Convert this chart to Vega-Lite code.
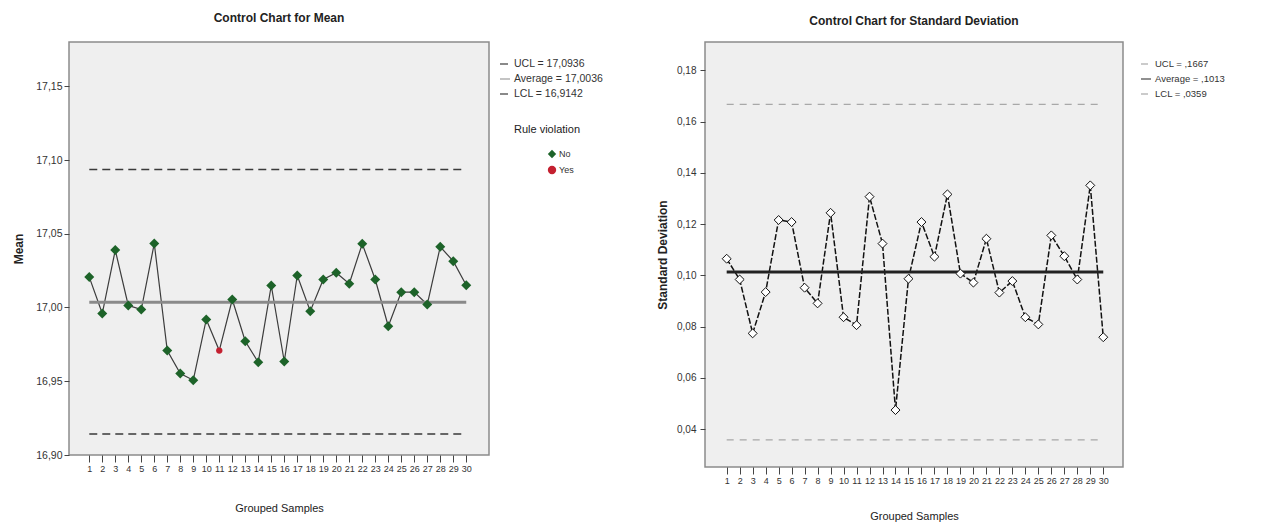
{
  "$schema": "https://vega.github.io/schema/vega-lite/v6.json",
  "background": "white",
  "padding": {"left": 11, "top": 11, "right": 5, "bottom": 0},
  "datasets": {
    "mean": [
      {"sample": 1, "mean": 17.0206, "violation": "No"},
      {"sample": 2, "mean": 16.9959, "violation": "No"},
      {"sample": 3, "mean": 17.0389, "violation": "No"},
      {"sample": 4, "mean": 17.0014, "violation": "No"},
      {"sample": 5, "mean": 16.9986, "violation": "No"},
      {"sample": 6, "mean": 17.0434, "violation": "No"},
      {"sample": 7, "mean": 16.9708, "violation": "No"},
      {"sample": 8, "mean": 16.9552, "violation": "No"},
      {"sample": 9, "mean": 16.9507, "violation": "No"},
      {"sample": 10, "mean": 16.9919, "violation": "No"},
      {"sample": 11, "mean": 16.9708, "violation": "Yes"},
      {"sample": 12, "mean": 17.0054, "violation": "No"},
      {"sample": 13, "mean": 16.9771, "violation": "No"},
      {"sample": 14, "mean": 16.9629, "violation": "No"},
      {"sample": 15, "mean": 17.0149, "violation": "No"},
      {"sample": 16, "mean": 16.9634, "violation": "No"},
      {"sample": 17, "mean": 17.0217, "violation": "No"},
      {"sample": 18, "mean": 16.9975, "violation": "No"},
      {"sample": 19, "mean": 17.0190, "violation": "No"},
      {"sample": 20, "mean": 17.0235, "violation": "No"},
      {"sample": 21, "mean": 17.0161, "violation": "No"},
      {"sample": 22, "mean": 17.0432, "violation": "No"},
      {"sample": 23, "mean": 17.0190, "violation": "No"},
      {"sample": 24, "mean": 16.9873, "violation": "No"},
      {"sample": 25, "mean": 17.0104, "violation": "No"},
      {"sample": 26, "mean": 17.0104, "violation": "No"},
      {"sample": 27, "mean": 17.0020, "violation": "No"},
      {"sample": 28, "mean": 17.0412, "violation": "No"},
      {"sample": 29, "mean": 17.0314, "violation": "No"},
      {"sample": 30, "mean": 17.0151, "violation": "No"}
    ],
    "sd": [
      {"sample": 1, "sd": 0.1065},
      {"sample": 2, "sd": 0.0984},
      {"sample": 3, "sd": 0.0774},
      {"sample": 4, "sd": 0.0935},
      {"sample": 5, "sd": 0.1216},
      {"sample": 6, "sd": 0.1208},
      {"sample": 7, "sd": 0.0952},
      {"sample": 8, "sd": 0.0891},
      {"sample": 9, "sd": 0.1244},
      {"sample": 10, "sd": 0.0837},
      {"sample": 11, "sd": 0.0806},
      {"sample": 12, "sd": 0.1307},
      {"sample": 13, "sd": 0.1124},
      {"sample": 14, "sd": 0.0475},
      {"sample": 15, "sd": 0.0987},
      {"sample": 16, "sd": 0.1208},
      {"sample": 17, "sd": 0.1073},
      {"sample": 18, "sd": 0.1316},
      {"sample": 19, "sd": 0.1007},
      {"sample": 20, "sd": 0.0972},
      {"sample": 21, "sd": 0.1143},
      {"sample": 22, "sd": 0.0933},
      {"sample": 23, "sd": 0.0978},
      {"sample": 24, "sd": 0.0837},
      {"sample": 25, "sd": 0.0809},
      {"sample": 26, "sd": 0.1156},
      {"sample": 27, "sd": 0.1075},
      {"sample": 28, "sd": 0.0984},
      {"sample": 29, "sd": 0.1351},
      {"sample": 30, "sd": 0.0759}
    ],
    "meanLimits": [
      {"line": "UCL = 17,0936", "value": 17.0936, "kind": "limit"},
      {"line": "Average = 17,0036", "value": 17.0036, "kind": "avg"},
      {"line": "LCL = 16,9142", "value": 16.9142, "kind": "limit"}
    ],
    "sdLimits": [
      {"line": "UCL = ,1667", "value": 0.1667, "kind": "limit"},
      {"line": "Average = ,1013", "value": 0.1013, "kind": "avg"},
      {"line": "LCL = ,0359", "value": 0.0359, "kind": "limit"}
    ]
  },
  "config": {
    "font": "Liberation Sans",
    "view": {"fill": "#efefef", "stroke": "#8c8c8c", "strokeWidth": 1.5},
    "axis": {
      "grid": false,
      "domain": false,
      "labelFont": "Liberation Sans",
      "titleFont": "Liberation Sans",
      "labelColor": "#333333",
      "titleColor": "#222222",
      "tickColor": "#444444"
    },
    "legend": {
      "labelFont": "Liberation Sans",
      "titleFont": "Liberation Sans",
      "labelColor": "#333333",
      "titleColor": "#222222"
    },
    "title": {"font": "Liberation Sans", "color": "#222222"}
  },
  "resolve": {
    "scale": {"fill": "independent", "shape": "independent", "stroke": "independent", "strokeDash": "independent"},
    "legend": {"fill": "independent", "shape": "independent", "stroke": "independent", "strokeDash": "independent"}
  },
  "spacing": 51,
  "hconcat": [
    {
      "width": 420,
      "height": 413,
      "title": {"text": "Control Chart for Mean", "fontSize": 12, "fontWeight": "bold", "frame": "group", "anchor": "middle", "offset": 17},
      "layer": [
        {
          "data": {"name": "mean"},
          "mark": {"type": "line", "color": "#3c3c3c", "strokeWidth": 1.2},
          "encoding": {
            "x": {
              "field": "sample", "type": "quantitative", "title": "Grouped Samples",
              "scale": {"domain": [-0.56, 31.75], "nice": false, "zero": false},
              "axis": {"values": [1,2,3,4,5,6,7,8,9,10,11,12,13,14,15,16,17,18,19,20,21,22,23,24,25,26,27,28,29,30], "tickCount": 30, "labelOverlap": false, "labelFlush": false, "labelFontSize": 9, "tickSize": 7, "labelPadding": 2, "titleFontSize": 11, "titleFontWeight": "normal", "titlePadding": 29}
            },
            "y": {
              "field": "mean", "type": "quantitative", "title": "Mean",
              "scale": {"domain": [16.9, 17.180], "nice": false, "zero": false},
              "axis": {"values": [16.9, 16.95, 17.0, 17.05, 17.1, 17.15], "tickCount": 6, "labelExpr": "replace(format(datum.value, '.2f'), '.', ',')", "labelFontSize": 10.5, "tickSize": 5, "labelPadding": 2, "minExtent": 33, "maxExtent": 33, "titleFontSize": 12, "titleFontWeight": "bold", "titlePadding": 11}
            }
          }
        },
        {
          "data": {"name": "meanLimits"},
          "transform": [{"filter": "datum.kind == 'limit'"}],
          "mark": {"type": "rule", "strokeWidth": 1.5},
          "encoding": {
            "x": {"datum": 1, "type": "quantitative", "title": "Grouped Samples",
              "axis": {"values": [1,2,3,4,5,6,7,8,9,10,11,12,13,14,15,16,17,18,19,20,21,22,23,24,25,26,27,28,29,30], "tickCount": 30, "labelOverlap": false, "labelFlush": false, "labelFontSize": 9, "tickSize": 7, "labelPadding": 2, "titleFontSize": 11, "titleFontWeight": "normal", "titlePadding": 29}},
            "x2": {"datum": 30},
            "y": {"field": "value", "type": "quantitative", "title": "Mean"},
            "stroke": {
              "field": "line", "type": "nominal",
              "scale": {"domain": ["UCL = 17,0936", "Average = 17,0036", "LCL = 16,9142"], "range": ["#3a3a3a", "#8a8a8a", "#3a3a3a"]},
              "legend": {"title": null, "orient": "none", "legendX": 430, "legendY": 16, "symbolType": "stroke", "symbolSize": 100, "symbolStrokeWidth": 1.2, "labelFontSize": 10.5, "rowPadding": 3, "labelOffset": 3}
            },
            "strokeDash": {
              "field": "line", "type": "nominal",
              "scale": {"domain": ["UCL = 17,0936", "Average = 17,0036", "LCL = 16,9142"], "range": [[8, 5], [1, 0], [8, 5]]},
              "legend": {"title": null, "orient": "none", "legendX": 430, "legendY": 16, "symbolType": "stroke", "symbolSize": 100, "symbolStrokeWidth": 1.2, "labelFontSize": 10.5, "rowPadding": 3, "labelOffset": 3}
            }
          }
        },
        {
          "data": {"name": "meanLimits"},
          "transform": [{"filter": "datum.kind == 'avg'"}],
          "mark": {"type": "rule", "strokeWidth": 3},
          "encoding": {
            "x": {"datum": 1, "type": "quantitative", "title": "Grouped Samples"},
            "x2": {"datum": 30},
            "y": {"field": "value", "type": "quantitative", "title": "Mean"},
            "stroke": {"field": "line", "type": "nominal"},
            "strokeDash": {"field": "line", "type": "nominal"}
          }
        },
        {
          "data": {"name": "mean"},
          "transform": [{"filter": "datum.violation == 'No'"}],
          "mark": {"type": "point", "filled": true, "size": 100, "opacity": 1},
          "encoding": {
            "x": {"field": "sample", "type": "quantitative", "title": "Grouped Samples"},
            "y": {"field": "mean", "type": "quantitative", "title": "Mean"},
            "fill": {
              "field": "violation", "type": "nominal",
              "scale": {"domain": ["No", "Yes"], "range": ["#1d6329", "#c42030"]},
              "legend": {"title": "Rule violation", "orient": "none", "legendX": 445, "legendY": 82, "titleFontSize": 11, "titleFontWeight": "normal", "titleAlign": "center", "titlePadding": 14, "labelFontSize": 9, "symbolSize": 70, "rowPadding": 0, "labelOffset": 2}
            },
            "shape": {
              "field": "violation", "type": "nominal",
              "scale": {"domain": ["No", "Yes"], "range": ["diamond", "circle"]},
              "legend": {"title": "Rule violation", "orient": "none", "legendX": 445, "legendY": 82, "titleFontSize": 11, "titleFontWeight": "normal", "titleAlign": "center", "titlePadding": 14, "labelFontSize": 9, "symbolSize": 70, "rowPadding": 0, "labelOffset": 2}
            }
          }
        },
        {
          "data": {"name": "mean"},
          "transform": [{"filter": "datum.violation == 'Yes'"}],
          "mark": {"type": "point", "filled": true, "size": 40, "opacity": 1},
          "encoding": {
            "x": {"field": "sample", "type": "quantitative", "title": "Grouped Samples"},
            "y": {"field": "mean", "type": "quantitative", "title": "Mean"},
            "fill": {"field": "violation", "type": "nominal"},
            "shape": {"field": "violation", "type": "nominal"}
          }
        }
      ]
    },
    {
      "width": 418,
      "height": 425,
      "title": {"text": "Control Chart for Standard Deviation", "fontSize": 12, "fontWeight": "bold", "frame": "group", "anchor": "middle", "offset": 14},
      "layer": [
        {
          "data": {"name": "sd"},
          "mark": {"type": "line", "color": "#111111", "strokeWidth": 1.5, "strokeDash": [6, 2]},
          "encoding": {
            "x": {
              "field": "sample", "type": "quantitative", "title": "Grouped Samples",
              "scale": {"domain": [-0.67, 31.52], "nice": false, "zero": false},
              "axis": {"values": [1,2,3,4,5,6,7,8,9,10,11,12,13,14,15,16,17,18,19,20,21,22,23,24,25,26,27,28,29,30], "tickCount": 30, "labelOverlap": false, "labelFlush": false, "labelFontSize": 9, "tickSize": 7, "labelPadding": 2, "titleFontSize": 11, "titleFontWeight": "normal", "titlePadding": 25}
            },
            "y": {
              "field": "sd", "type": "quantitative", "title": "Standard Deviation",
              "scale": {"domain": [0.0253, 0.191], "nice": false, "zero": false},
              "axis": {"values": [0.04, 0.06, 0.08, 0.1, 0.12, 0.14, 0.16, 0.18], "tickCount": 8, "labelExpr": "replace(format(datum.value, '.2f'), '.', ',')", "labelFontSize": 10, "tickSize": 5, "labelPadding": 4, "minExtent": 30, "maxExtent": 30, "titleFontSize": 12, "titleFontWeight": "bold", "titlePadding": 6}
            }
          }
        },
        {
          "data": {"name": "sdLimits"},
          "transform": [{"filter": "datum.kind == 'limit'"}],
          "mark": {"type": "rule", "strokeWidth": 1.3},
          "encoding": {
            "x": {"datum": 1, "type": "quantitative", "title": "Grouped Samples",
              "axis": {"values": [1,2,3,4,5,6,7,8,9,10,11,12,13,14,15,16,17,18,19,20,21,22,23,24,25,26,27,28,29,30], "tickCount": 30, "labelOverlap": false, "labelFlush": false, "labelFontSize": 9, "tickSize": 7, "labelPadding": 2, "titleFontSize": 11, "titleFontWeight": "normal", "titlePadding": 25}},
            "x2": {"datum": 30},
            "y": {"field": "value", "type": "quantitative", "title": "Standard Deviation"},
            "stroke": {
              "field": "line", "type": "nominal",
              "scale": {"domain": ["UCL = ,1667", "Average = ,1013", "LCL = ,0359"], "range": ["#a8a8a8", "#222222", "#a8a8a8"]},
              "legend": {"title": null, "orient": "none", "legendX": 435, "legendY": 16, "symbolType": "stroke", "symbolSize": 100, "symbolStrokeWidth": 1.2, "labelFontSize": 9.5, "rowPadding": 4, "labelOffset": 3}
            },
            "strokeDash": {
              "field": "line", "type": "nominal",
              "scale": {"domain": ["UCL = ,1667", "Average = ,1013", "LCL = ,0359"], "range": [[7, 6], [1, 0], [7, 6]]},
              "legend": {"title": null, "orient": "none", "legendX": 435, "legendY": 16, "symbolType": "stroke", "symbolSize": 100, "symbolStrokeWidth": 1.2, "labelFontSize": 9.5, "rowPadding": 4, "labelOffset": 3}
            }
          }
        },
        {
          "data": {"name": "sdLimits"},
          "transform": [{"filter": "datum.kind == 'avg'"}],
          "mark": {"type": "rule", "strokeWidth": 3},
          "encoding": {
            "x": {"datum": 1, "type": "quantitative", "title": "Grouped Samples"},
            "x2": {"datum": 30},
            "y": {"field": "value", "type": "quantitative", "title": "Standard Deviation"},
            "stroke": {"field": "line", "type": "nominal"},
            "strokeDash": {"field": "line", "type": "nominal"}
          }
        },
        {
          "data": {"name": "sd"},
          "mark": {"type": "point", "shape": "diamond", "filled": true, "fill": "white", "stroke": "#111111", "strokeWidth": 1, "size": 80, "opacity": 1},
          "encoding": {
            "x": {"field": "sample", "type": "quantitative", "title": "Grouped Samples"},
            "y": {"field": "sd", "type": "quantitative", "title": "Standard Deviation"}
          }
        }
      ]
    }
  ]
}
